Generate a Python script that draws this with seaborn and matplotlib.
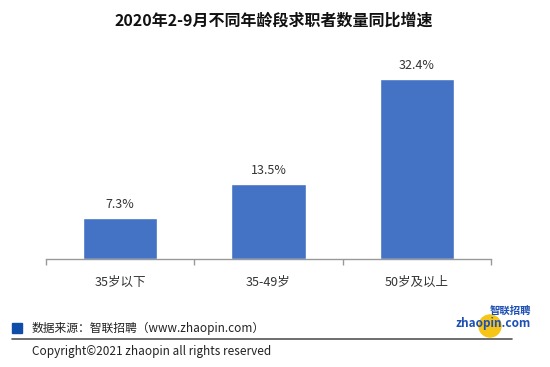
import matplotlib
matplotlib.use("Agg")
import matplotlib.pyplot as plt
import seaborn as sns
import pandas as pd
from matplotlib.patches import Rectangle, Ellipse

sns.set_theme(style="white")
plt.rcParams['font.family'] = ['Noto Sans CJK SC', 'DejaVu Sans']

# data
categories = ["35岁以下", "35-49岁", "50岁及以上"]
growth = [7.3, 13.5, 32.4]
value_labels = ["7.3%", "13.5%", "32.4%"]

df = pd.DataFrame({"age": categories, "growth": growth})

fig = plt.figure(figsize=(5.5, 3.67), dpi=100)
W, H = 550, 367

# axes: x 46..491 px, baseline y=259, top y=45
ax = fig.add_axes([46 / W, 1 - 259 / H, (491 - 46) / W, (259 - 45) / H])
sns.barplot(data=df, x="age", y="growth", color="#4472C4", width=0.5,
            saturation=1, ax=ax)
ax.set_ylim(0, 38.5)
ax.set_xlim(-0.5, 2.5)
ax.set_xlabel("")
ax.set_ylabel("")
ax.set_yticks([])
for s in ["top", "right", "left"]:
    ax.spines[s].set_visible(False)
ax.spines["bottom"].set_color("#999999")
ax.spines["bottom"].set_linewidth(1)
ax.set_xticks([-0.5, 0.5, 1.5, 2.5], minor=False)
ax.set_xticks([0, 1, 2], minor=True)
ax.set_xticklabels(["", "", "", ""])
ax.tick_params(axis="x", which="major", bottom=True, length=4, color="#999999", width=1)
ax.tick_params(axis="x", which="minor", bottom=False, pad=8)
ax.set_xticklabels(categories, minor=True, fontsize=9, color="#333333")

for i, (v, lab) in enumerate(zip(growth, value_labels)):
    ax.annotate(lab, (i, v), xytext=(0, 5), textcoords="offset points",
                ha="center", va="bottom", fontsize=9, color="#333333")

# title
fig.text(274 / W, 1 - 21 / H, "2020年2-9月不同年龄段求职者数量同比增速",
         ha="center", va="center", fontsize=11.5, fontweight="bold", color="#111111")

# footer
fig.patches.append(Rectangle((12 / W, 1 - 333 / H), 10 / W, 10 / H,
                             transform=fig.transFigure, color="#0F4DA8"))
fig.text(32 / W, 1 - 328 / H, "数据来源：智联招聘（www.zhaopin.com）",
         ha="left", va="center", fontsize=8.5, color="#222222")
fig.lines.append(plt.Line2D([12 / W, 512 / W], [1 - 339 / H, 1 - 339 / H],
                            transform=fig.transFigure, color="#555555", lw=1.2))
fig.text(32 / W, 1 - 352 / H, "Copyright©2021 zhaopin all rights reserved",
         ha="left", va="center", fontsize=8.5, color="#222222")

# logo
fig.patches.append(Ellipse((490 / W, 1 - 326 / H), 22 / W, 22 / H,
                           transform=fig.transFigure, color="#F5C518", zorder=1))
fig.text(531 / W, 1 - 316 / H, "智联招聘", ha="right", va="bottom", fontsize=7.5,
         fontweight="bold", style="italic", color="#1E50B4", zorder=3)
fig.text(531 / W, 1 - 317 / H, "zhaopin.com", ha="right", va="top", fontsize=8.5,
         fontweight="bold", style="italic", color="#1E50B4", zorder=3)

fig.savefig("out.png", dpi=100)
